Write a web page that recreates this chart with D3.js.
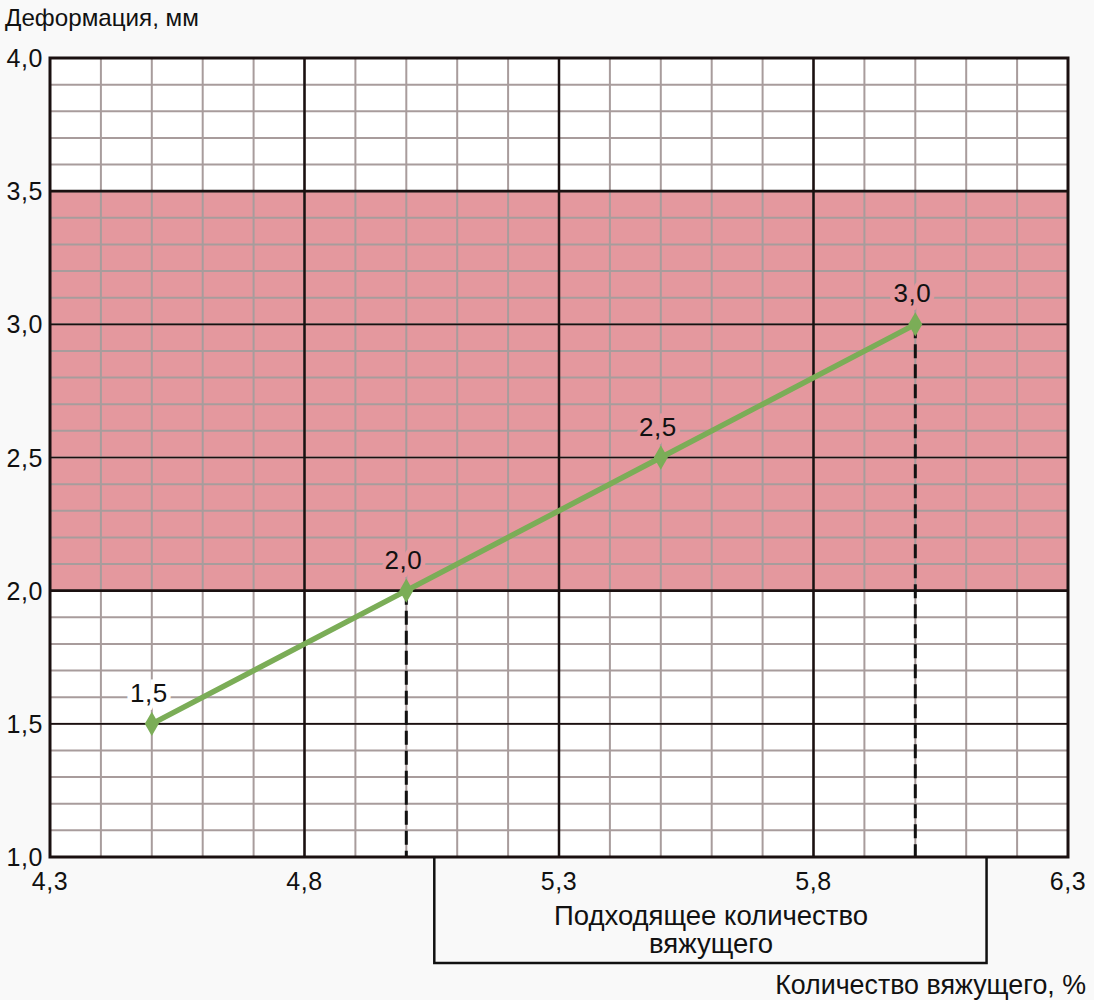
<!DOCTYPE html>
<html><head><meta charset="utf-8">
<script src="https://cdn.jsdelivr.net/npm/d3@7"></script>
<style>
html,body{margin:0;padding:0;background:#f9f9f9;}
text{font-family:"Liberation Sans",Arial,sans-serif;fill:#111;}
</style></head>
<body>
<svg id="c" width="1094" height="1000"></svg>
<script>
const xValues = [4.5, 5.0, 5.5, 6.0];
const yValues = [1.5, 2.0, 2.5, 3.0];
const pointLabels = ["1,5", "2,0", "2,5", "3,0"];
const xTicks = [4.3, 4.8, 5.3, 5.8, 6.3];
const yTicks = [1.0, 1.5, 2.0, 2.5, 3.0, 3.5, 4.0];
const bandRange = [2.0, 3.5];
const suitableRange = [5.055, 6.14];
const dashedAt = [5.0, 6.0];
const yTitle = "Деформация, мм";
const xTitle = "Количество вяжущего, %";
const boxText = ["Подходящее количество", "вяжущего"];
const fmt = v => v.toFixed(1).replace(".", ",");

const svg = d3.select("#c");
const L = 50, R = 1068, T = 58, B = 857;
const x = d3.scaleLinear().domain([4.3, 6.3]).range([L, R]);
const y = d3.scaleLinear().domain([1.0, 4.0]).range([B, T]);

svg.append("rect").attr("x", L).attr("y", T).attr("width", R - L).attr("height", B - T).attr("fill", "#ffffff");
svg.append("rect").attr("x", L).attr("y", y(bandRange[1])).attr("width", R - L)
  .attr("height", y(bandRange[0]) - y(bandRange[1])).attr("fill", "#e4989e");

const minorX = d3.range(0, 21).map(i => 4.3 + i * 0.1);
const minorY = d3.range(0, 31).map(i => 1.0 + i * 0.1);
const g = svg.append("g");
g.selectAll(".mx").data(minorX).join("line")
  .attr("x1", d => x(d)).attr("x2", d => x(d)).attr("y1", T).attr("y2", B)
  .attr("stroke", "#a89c9c").attr("stroke-width", 2);
g.selectAll(".my").data(minorY).join("line")
  .attr("y1", d => y(d)).attr("y2", d => y(d)).attr("x1", L).attr("x2", R)
  .attr("stroke", "#a89c9c").attr("stroke-width", 2);

g.selectAll(".Mx").data(xTicks.slice(1, -1)).join("line")
  .attr("x1", d => x(d)).attr("x2", d => x(d)).attr("y1", T).attr("y2", B)
  .attr("stroke", "#1a1010").attr("stroke-width", 2.5);
g.selectAll(".My").data(yTicks.slice(1, -1)).join("line")
  .attr("y1", d => y(d)).attr("y2", d => y(d)).attr("x1", L).attr("x2", R)
  .attr("stroke", "#1a1010").attr("stroke-width", d => bandRange.includes(d) ? 2.8 : 1.6);

g.selectAll(".dd").data(dashedAt).join("line")
  .attr("x1", d => x(d)).attr("x2", d => x(d))
  .attr("y1", d => y(yValues[xValues.indexOf(d)])).attr("y2", B)
  .attr("stroke", "#111").attr("stroke-width", 3).attr("stroke-dasharray", "14,6");

svg.append("rect").attr("x", L).attr("y", T).attr("width", R - L).attr("height", B - T)
  .attr("fill", "none").attr("stroke", "#1a1010").attr("stroke-width", 3);

const bx0 = x(suitableRange[0]), bx1 = x(suitableRange[1]), bb = 963;
svg.append("path").attr("d", `M${bx0},${B}V${bb}H${bx1}V${B}`)
  .attr("fill", "none").attr("stroke", "#111").attr("stroke-width", 2.5);
const cx = 711;
svg.append("text").attr("x", cx).attr("y", 925).attr("text-anchor", "middle").attr("font-size", 27.5).text(boxText[0]);
svg.append("text").attr("x", cx).attr("y", 953).attr("text-anchor", "middle").attr("font-size", 27.5).text(boxText[1]);

svg.selectAll(".yt").data(yTicks).join("text")
  .attr("x", 43).attr("y", d => y(d)).attr("dy", "0.36em").attr("text-anchor", "end")
  .attr("font-size", 25).attr("letter-spacing", 0.6).text(fmt);
svg.selectAll(".xt").data(xTicks).join("text")
  .attr("x", d => x(d)).attr("y", 890).attr("text-anchor", "middle")
  .attr("font-size", 25).attr("letter-spacing", 0.6).text(fmt);

svg.append("text").attr("x", 5).attr("y", 26).attr("font-size", 24.2).text(yTitle);
svg.append("text").attr("x", 1086).attr("y", 994).attr("text-anchor", "end").attr("font-size", 26.8).text(xTitle);

const pts = xValues.map((d, i) => [d, yValues[i]]);
svg.append("path").datum(pts)
  .attr("d", d3.line().x(d => x(d[0])).y(d => y(d[1])))
  .attr("fill", "none").attr("stroke", "#7bad57").attr("stroke-width", 5.5);
svg.selectAll(".pt").data(pts).join("path")
  .attr("d", d3.symbol(d3.symbolDiamond, 170))
  .attr("transform", d => `translate(${x(d[0])},${y(d[1])})`)
  .attr("fill", "#7bad57");

svg.selectAll(".pl").data(pts).join("text")
  .attr("x", d => x(d[0]) - 3).attr("y", d => y(d[1]) - 22)
  .attr("text-anchor", "middle").attr("font-size", 26).attr("letter-spacing", 0.5)
  .attr("stroke", d => (d[1] >= bandRange[0] && d[1] <= bandRange[1]) ? "#e4989e" : "#ffffff")
  .attr("stroke-width", 9).attr("paint-order", "stroke")
  .text((d, i) => pointLabels[i]);
</script>
</body></html>
